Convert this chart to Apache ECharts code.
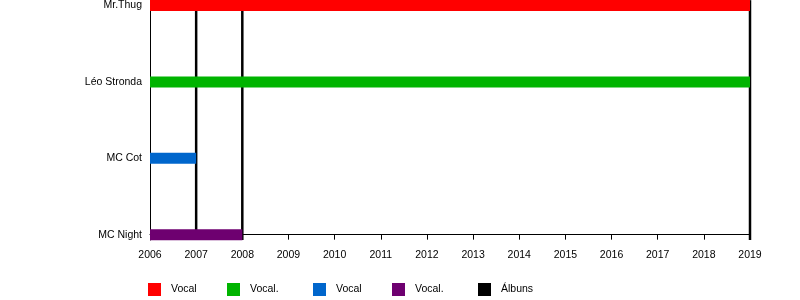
<!DOCTYPE html>
<html><head><meta charset="utf-8">
<script src="https://cdn.jsdelivr.net/npm/echarts@6/dist/echarts.min.js"></script>
<style>html,body{margin:0;padding:0;background:#fff}#c{width:800px;height:300px}</style>
</head><body><div id="c"></div>
<script>
// Data
const members = ['MC Night', 'MC Cot', 'Léo Stronda', 'Mr.Thug']; // bottom -> top
const memberStart = [2006, 2006, 2006, 2006];
const memberEnd = [2008, 2007, 2019, 2019];
const memberColors = ['#6e0070', '#0066cc', '#00b400', '#ff0000'];
const yearTicks = [2006, 2007, 2008, 2009, 2010, 2011, 2012, 2013, 2014, 2015, 2016, 2017, 2018, 2019];
const albumYears = [2007, 2008, 2019];
const legendOrder = [3, 2, 1, 0]; // member index per legend slot
const legendLabels = ['Vocal', 'Vocal.', 'Vocal', 'Vocal.', 'Álbuns'];
const legendLeft = [148, 227, 313, 392, 478];

const Y_MIN = -0.07, Y_MAX = 3.07;
const FONT = 'Liberation Sans, Arial, sans-serif';

const chart = echarts.init(document.getElementById('c'), null, {renderer: 'canvas'});

function barItem(params, api) {
  const s = api.coord([api.value(0), api.value(2)]);
  const e = api.coord([api.value(1), api.value(2)]);
  const h = 11;
  return {type: 'rect', shape: {x: s[0], y: s[1] - h / 2, width: e[0] - s[0], height: h},
          style: {fill: api.visual('color')}};
}
function albumItem(params, api) {
  const t = api.coord([api.value(0), Y_MAX]);
  const b = api.coord([api.value(0), Y_MIN]);
  return {type: 'line', shape: {x1: t[0], y1: t[1], x2: b[0], y2: b[1]},
          style: {stroke: '#000', lineWidth: 2.5}};
}

const series = [];
const seriesNames = [];
legendOrder.forEach((mi, k) => {
  const name = 's' + k;
  seriesNames.push(name);
  series.push({
    type: 'custom', name: name, renderItem: barItem, z: 3,
    itemStyle: {color: memberColors[mi]},
    encode: {x: [0, 1], y: 2},
    data: [[memberStart[mi], memberEnd[mi], mi]]
  });
});
seriesNames.push('s4');
series.push({
  type: 'custom', name: 's4', renderItem: albumItem, z: 2,
  itemStyle: {color: '#000'},
  encode: {x: 0, y: 1},
  data: albumYears.map(y => [y, 0])
});

const legends = seriesNames.map((n, i) => ({
  left: legendLeft[i], top: 283, orient: 'horizontal',
  icon: 'rect', itemWidth: 13, itemHeight: 13, padding: 0,
  data: [n],
  formatter: () => legendLabels[i],
  textStyle: {fontFamily: FONT, fontSize: 10.5, color: '#000', padding: [2, 0, 0, 5]},
  selectedMode: false
}));

chart.setOption({
  animation: false,
  backgroundColor: '#fff',
  grid: {left: 150, right: 50, top: 0, bottom: 60, containLabel: false},
  xAxis: {
    type: 'value', min: 2006, max: 2019, interval: 1,
    axisLine: {show: true, lineStyle: {color: '#000', width: 1}},
    axisTick: {show: true, length: 5, lineStyle: {color: '#000'}},
    axisLabel: {customValues: yearTicks, formatter: v => String(v), color: '#000',
                fontFamily: FONT, fontSize: 10.5, margin: 10},
    splitLine: {show: false}
  },
  yAxis: {
    type: 'value', min: Y_MIN, max: Y_MAX,
    axisLine: {show: true, lineStyle: {color: '#000', width: 1}},
    axisTick: {show: false},
    axisLabel: {customValues: [0, 1, 2, 3], formatter: v => members[Math.round(v)],
                color: '#000', fontFamily: FONT, fontSize: 10.5, margin: 8},
    splitLine: {show: false}
  },
  legend: legends,
  series: series
});
</script>
</body></html>
